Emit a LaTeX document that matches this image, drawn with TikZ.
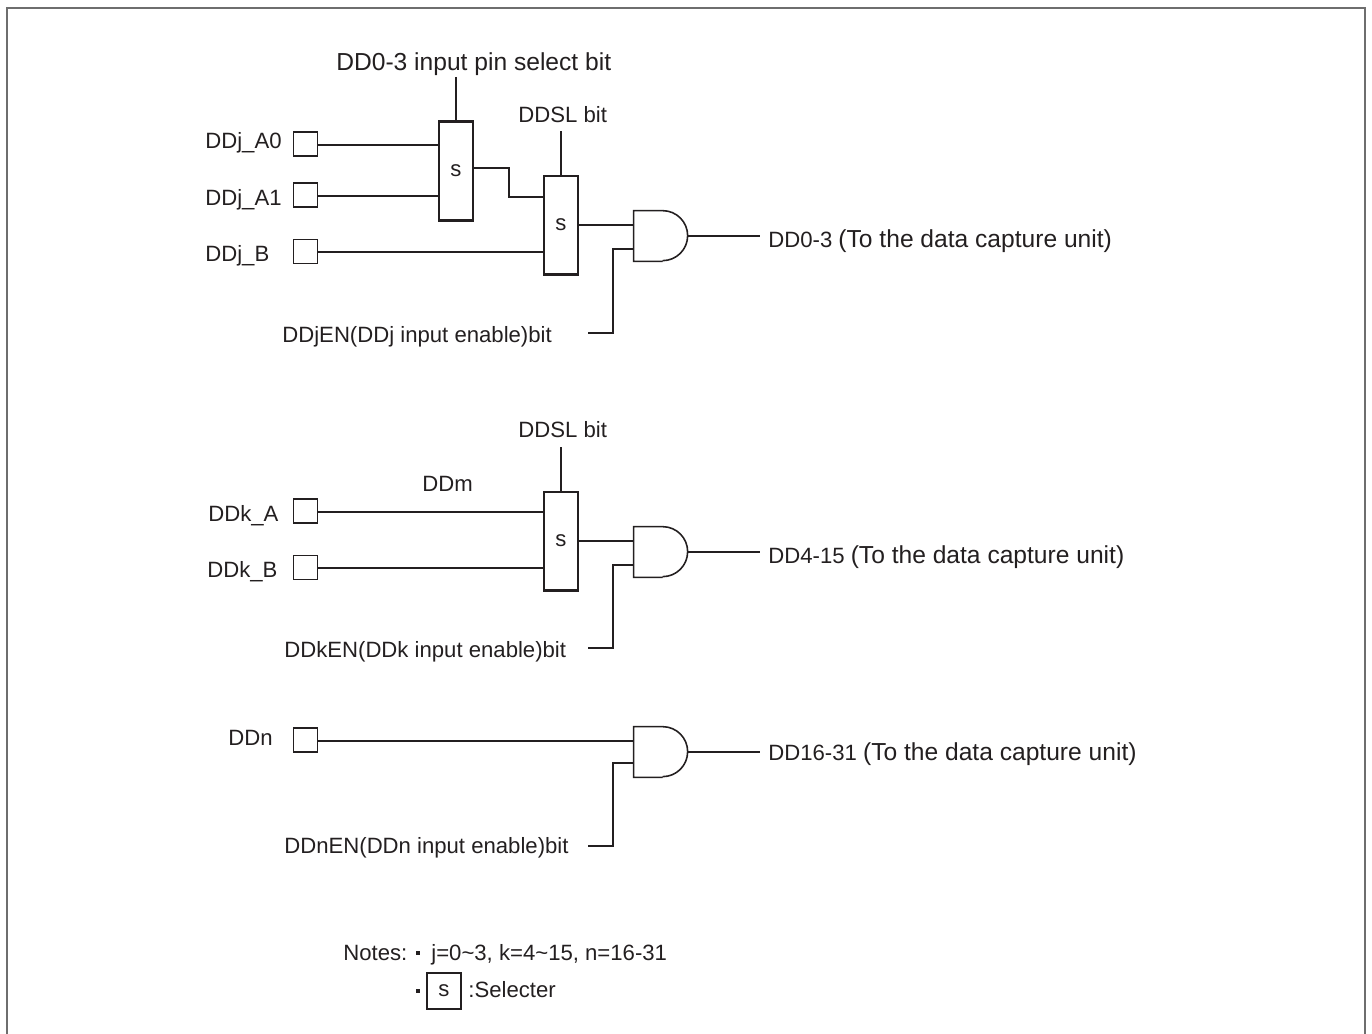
\documentclass[tikz,border=0pt]{standalone}
\usepackage{fontspec}
\setmainfont{Liberation Sans}
\usepackage{xcolor}
\usetikzlibrary{shapes,positioning,calc}
\definecolor{wireblack}{RGB}{35,31,32}
\definecolor{framegrey}{RGB}{110,110,110}
\newcommand{\andoutline}[1]{\draw[draw=wireblack, line width=0.9pt, line join=miter] (#1.south west) ++(0.58cm,0) -- (#1.south west) -- (#1.north west) -- ++(0.58cm,0) arc[start angle=90, end angle=-90, radius=0.5cm];}

\begin{document}
\begin{tikzpicture}[
    x=0.02cm, y=-0.02cm,
    lbl/.style={anchor=base west, inner sep=0pt, text=wireblack, font=\fontsize{12.6}{15}\selectfont},
    lblbig/.style={lbl, font=\fontsize{14}{17}\selectfont},
    pinbox/.style={draw=wireblack, line width=0.75pt, minimum width=0.49cm, minimum height=0.48cm, inner sep=0pt},
    selbox/.style={draw=wireblack, line width=1.15pt, minimum width=0.68cm, minimum height=1.98cm, inner sep=0pt,
                   text=wireblack, font=\fontsize{12.6}{15}\selectfont},
    andbox/.style={minimum width=1.08cm, minimum height=1cm, inner sep=0pt},
    bulletbox/.style={fill=wireblack, minimum size=0.08cm, inner sep=0pt},
    wire/.style={draw=wireblack, line width=0.9pt}
]
    \useasboundingbox (0,0) rectangle (1372,1034);
    \draw[framegrey, line width=1.1pt] (7,1034) -- (7,8) -- (1365,8) -- (1365,1034);

    % first group
    \node[pinbox] (pa0) at (305.5,144) {};
    \node[pinbox] (pa1) at (305.5,195) {};
    \node[pinbox] (pb)  at (305.5,251.5) {};
    \node[selbox] (sela) at (456,171) {s};
    \node[selbox] (selb) at (561,225) {s};
    \node[andbox] (anda) at (661,236) {};
    \andoutline{anda}
    \node[lbl] (lpa0) at (205,149) {DDj\_A0};
    \node[lbl] (lpa1) at (205,205) {DDj\_A1};
    \node[lbl] (lpb)  at (205,261) {DDj\_B};
    \node[lblbig] (lsela) at (336,71) {DD0-3 input pin select bit};
    \node[lbl] (lselb) at (518,123) {DDSL bit};
    \node[lbl] (lena)  at (282,342) {DDjEN(DDj input enable)bit};
    \node[lbl] (louta) at (768,247) {DD0-3 \fontsize{14}{17}\selectfont(To the data capture unit)};
    \coordinate (topa) at (456,77);
    \coordinate (topb) at (561,131);
    \coordinate (ena)  at (588,333);
    \coordinate (outa) at (760,236);
    \draw[wire] (topa) -- (sela.north);
    \draw[wire] (topb) -- (selb.north);
    \draw[wire] (pa0.east |- 0,145) -- (sela.west |- 0,145);
    \draw[wire] (pa1.east |- 0,196) -- (sela.west |- 0,196);
    \draw[wire] (pb.east |- 0,252) -- (selb.west |- 0,252);
    \draw[wire] (sela.east |- 0,168) -| (509,197) -- (selb.west |- 0,197);
    \draw[wire] (selb.east) -- (selb.east -| anda.west);
    \draw[wire] (ena) -| (613,249) -- (anda.west |- 0,249);
    \draw[wire] (anda.east) -- (outa);

    % second group
    \node[pinbox] (pka) at (305.5,511) {};
    \node[pinbox] (pkb) at (305.5,567.5) {};
    \node[selbox] (selk) at (561,541) {s};
    \node[andbox] (andk) at (661,552) {};
    \andoutline{andk}
    \node[lbl] (lpka) at (208,521) {DDk\_A};
    \node[lbl] (lpkb) at (207,577) {DDk\_B};
    \node[lbl] (ldsl) at (518,437) {DDSL bit};
    \node[lbl] (lddm) at (422,491) {DDm};
    \node[lbl] (lenk) at (284,657) {DDkEN(DDk input enable)bit};
    \node[lbl] (loutk) at (768,563) {DD4-15 \fontsize{14}{17}\selectfont(To the data capture unit)};
    \coordinate (topk) at (561,447);
    \coordinate (enk)  at (588,648);
    \coordinate (outk) at (760,552);
    \draw[wire] (topk) -- (selk.north);
    \draw[wire] (pka.east |- 0,512) -- (selk.west |- 0,512);
    \draw[wire] (pkb.east |- 0,568) -- (selk.west |- 0,568);
    \draw[wire] (selk.east) -- (selk.east -| andk.west);
    \draw[wire] (enk) -| (613,565) -- (andk.west |- 0,565);
    \draw[wire] (andk.east) -- (outk);

    % third group
    \node[pinbox] (pn) at (305.5,740) {};
    \node[andbox] (andn) at (661,752) {};
    \andoutline{andn}
    \node[lbl] (lpn) at (228,745) {DDn};
    \node[lbl] (lenn) at (284,853) {DDnEN(DDn input enable)bit};
    \node[lbl] (loutn) at (768,760) {DD16-31 \fontsize{14}{17}\selectfont(To the data capture unit)};
    \coordinate (enn)  at (588,846);
    \coordinate (outn) at (760,752);
    \draw[wire] (pn.east |- 0,741) -- (andn.west |- 0,741);
    \draw[wire] (enn) -| (613,763) -- (andn.west |- 0,763);
    \draw[wire] (andn.east) -- (outn);

    % notes
    \node[lbl] (lnotes) at (343,960) {Notes:};
    \node[bulletbox] (bua) at (418,953) {};
    \node[lbl] (lvals) at (431,960) {j=0\textasciitilde3, k=4\textasciitilde15, n=16-31};
    \node[bulletbox] (bub) at (418,991) {};
    \node[selbox, minimum height=0.72cm] (leg) at (444,991) {s};
    \node[lbl] (lleg) at (468,997) {:Selecter};
\end{tikzpicture}
\end{document}
